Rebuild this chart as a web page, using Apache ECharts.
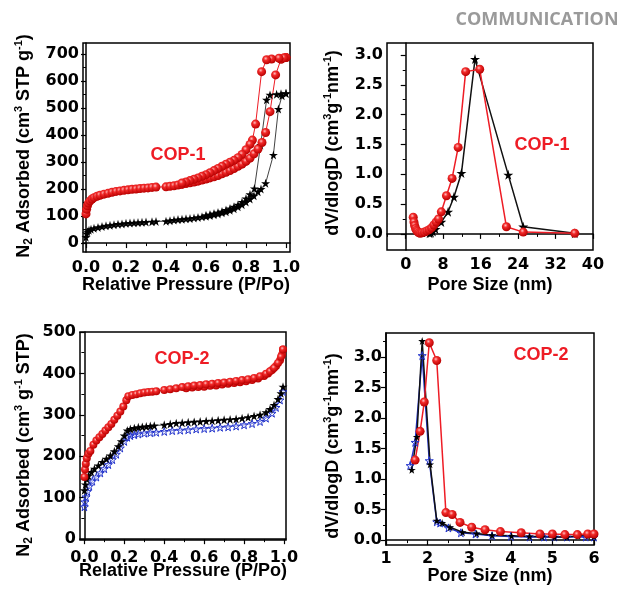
<!DOCTYPE html>
<html lang="en">
<head>
<meta charset="UTF-8">
<title>COP isotherms</title>
<style>
    *{margin:0;padding:0;}
    body{background:#fff;}
    #main{width:621px;height:590px;}
</style>
</head>
<body>
<div id="main"></div>
<script src="https://cdn.jsdelivr.net/npm/echarts@6/dist/echarts.min.js"></script>
<script>
// ---- tick values ----
const pressTicks = [0, 0.2, 0.4, 0.6, 0.8, 1.0];
const pressMinor = [0.1, 0.3, 0.5, 0.7, 0.9];
const ads1Ticks = [0, 100, 200, 300, 400, 500, 600, 700];
const ads1Minor = [50, 150, 250, 350, 450, 550, 650];
const pore1Ticks = [0, 8, 16, 24, 32, 40];
const pore1Minor = [-4, 4, 12, 20, 28, 36];
const dv1Ticks = [0, 0.5, 1.0, 1.5, 2.0, 2.5, 3.0];
const dv1Minor = [0.25, 0.75, 1.25, 1.75, 2.25, 2.75];
const ads2Ticks = [0, 100, 200, 300, 400, 500];
const ads2Minor = [50, 150, 250, 350, 450];
const pore2Ticks = [1, 2, 3, 4, 5, 6];
const pore2Minor = [1.5, 2.5, 3.5, 4.5, 5.5];
const dv2Ticks = [0, 0.5, 1.0, 1.5, 2.0, 2.5, 3.0];
const dv2Minor = [0.25, 0.75, 1.25, 1.75, 2.25, 2.75, 3.25];

// ---- COP-1 isotherm ----
const cop1RedAds = [[0.0,108],[0.003,125],[0.007,138],[0.012,148],[0.02,156],[0.03,163],[0.04,168],[0.055,173],[0.07,177],[0.09,181],[0.11,184],[0.13,188],[0.15,191],[0.17,193],[0.19,195],[0.21,197],[0.23,199],[0.25,200],[0.27,202],[0.29,203],[0.31,204],[0.33,206],[0.35,207],[0.40,208],[0.42,210],[0.44,212],[0.46,215],[0.48,217],[0.50,220],[0.52,223],[0.54,226],[0.56,229],[0.58,233],[0.60,237],[0.62,241],[0.64,245],[0.66,250],[0.68,256],[0.70,262],[0.72,268],[0.74,276],[0.76,284],[0.78,292],[0.80,302],[0.82,314],[0.84,330],[0.86,348],[0.88,372],[0.898,409],[0.92,486],[0.948,622],[0.975,680],[1.0,686]];
const cop1RedDes = [[1.0,686],[0.99,685],[0.965,684],[0.928,681],[0.903,678],[0.878,634],[0.848,440],[0.832,381],[0.82,365],[0.80,345],[0.78,328],[0.76,316],[0.74,306],[0.72,299],[0.70,292],[0.68,284],[0.66,276],[0.64,268],[0.62,260],[0.60,253],[0.58,247],[0.56,241],[0.54,236],[0.52,231],[0.50,226],[0.48,222]];
const cop1BlkAds = [[0.0,22],[0.003,35],[0.008,42],[0.015,47],[0.025,51],[0.04,55],[0.06,58],[0.08,61],[0.10,64],[0.12,66],[0.14,68],[0.16,70],[0.18,71],[0.20,73],[0.22,74],[0.24,75],[0.26,76],[0.28,77],[0.30,78],[0.33,79],[0.35,80],[0.40,81],[0.42,83],[0.44,85],[0.46,87],[0.48,88],[0.50,90],[0.52,91],[0.54,93],[0.56,95],[0.58,97],[0.60,99],[0.62,102],[0.64,105],[0.66,108],[0.68,112],[0.70,116],[0.72,121],[0.74,127],[0.76,134],[0.78,142],[0.80,152],[0.82,163],[0.84,175],[0.86,190],[0.875,200],[0.898,221],[0.937,326],[0.962,496],[0.98,545],[1.0,553]];
const cop1BlkDes = [[1.0,554],[0.975,552],[0.953,550],[0.92,548],[0.903,530],[0.873,363],[0.842,202],[0.82,180],[0.80,165],[0.78,152],[0.76,142],[0.74,134],[0.72,128],[0.70,122],[0.68,117],[0.66,113],[0.64,109],[0.62,106],[0.60,103]];

// ---- COP-1 pore size ----
const cop1RedPsd = [[1.6,0.28],[1.75,0.2],[1.9,0.14],[2.1,0.09],[2.3,0.06],[2.5,0.04],[2.8,0.02],[3.1,0.01],[3.5,0.02],[4.0,0.03],[4.5,0.05],[5.0,0.07],[5.5,0.1],[6.0,0.15],[6.5,0.2],[7.0,0.25],[7.6,0.37],[8.7,0.64],[9.9,0.93],[11.2,1.45],[12.8,2.72],[15.8,2.76],[21.5,0.12],[25.1,0.03],[36.1,0.01]];
const cop1BlkPsd = [[5.1,0.01],[5.4,0.02],[5.8,0.04],[6.35,0.08],[7.6,0.2],[9.05,0.37],[10.3,0.62],[11.9,1.02],[14.8,2.93],[21.9,0.99],[25.1,0.12],[36.1,0.01]];

// ---- COP-2 isotherm ----
const cop2RedAds = [[0.0,150],[0.003,168],[0.007,182],[0.012,195],[0.02,206],[0.03,213],[0.045,228],[0.06,238],[0.075,246],[0.09,254],[0.105,262],[0.12,270],[0.135,278],[0.15,288],[0.165,298],[0.18,308],[0.195,320],[0.21,335],[0.22,345],[0.24,348],[0.26,350],[0.28,352],[0.30,354],[0.32,355],[0.34,356],[0.36,357],[0.40,360],[0.43,362],[0.46,364],[0.49,367],[0.52,369],[0.55,371],[0.58,372],[0.61,374],[0.64,375],[0.67,377],[0.70,378],[0.73,380],[0.76,382],[0.79,384],[0.82,386],[0.85,389],[0.88,393],[0.91,399],[0.93,405],[0.95,413],[0.97,425],[0.985,440],[0.995,458]];
const cop2RedDes = [[0.995,458],[0.99,445],[0.98,432],[0.96,418],[0.94,408],[0.92,400],[0.90,394],[0.87,388],[0.84,384],[0.81,381],[0.78,379],[0.75,377],[0.72,375],[0.69,373],[0.66,371],[0.63,370],[0.60,368],[0.57,367],[0.54,366],[0.51,364]];
const cop2BlkAds = [[0.0,118],[0.005,132],[0.012,145],[0.02,153],[0.035,162],[0.05,170],[0.07,178],[0.09,186],[0.11,194],[0.13,202],[0.15,212],[0.17,224],[0.185,236],[0.2,250],[0.215,262],[0.23,266],[0.25,268],[0.27,270],[0.29,271],[0.31,272],[0.33,273],[0.35,274],[0.40,276],[0.43,278],[0.46,280],[0.49,281],[0.52,282],[0.55,283],[0.58,284],[0.61,285],[0.64,286],[0.67,287],[0.70,288],[0.73,289],[0.76,290],[0.79,292],[0.82,294],[0.85,297],[0.88,300],[0.91,306],[0.93,314],[0.95,324],[0.97,338],[0.985,352],[0.995,368]];
const cop2BlueDes = [[0.0,78],[0.003,90],[0.008,102],[0.015,115],[0.025,128],[0.04,140],[0.06,150],[0.08,160],[0.10,170],[0.12,180],[0.14,192],[0.16,205],[0.18,220],[0.2,236],[0.215,246],[0.23,250],[0.25,252],[0.27,254],[0.30,256],[0.33,257],[0.36,258],[0.40,260],[0.44,262],[0.48,263],[0.52,264],[0.56,266],[0.60,267],[0.64,268],[0.68,270],[0.72,271],[0.76,273],[0.80,276],[0.84,279],[0.88,284],[0.91,292],[0.94,304],[0.96,318],[0.98,336],[0.995,356]];

// ---- COP-2 pore size ----
const cop2RedPsd = [[1.70,1.31],[1.82,1.78],[1.92,2.26],[2.04,3.23],[2.22,2.94],[2.44,0.45],[2.59,0.42],[2.78,0.29],[3.06,0.21],[3.38,0.17],[3.75,0.14],[4.25,0.12],[4.7,0.10],[5.0,0.10],[5.3,0.09],[5.6,0.09],[5.85,0.10],[6.0,0.10]];
const cop2BlkPsd = [[1.62,1.15],[1.74,1.69],[1.87,3.26],[2.06,1.24],[2.22,0.32],[2.35,0.28],[2.54,0.21],[2.84,0.13],[3.18,0.11],[3.55,0.08],[4.02,0.07],[4.45,0.06],[4.75,0.06],[5.05,0.05],[5.35,0.05],[5.62,0.07],[5.85,0.07],[6.0,0.06]];
const cop2BluePsd = [[1.58,1.22],[1.70,1.60],[1.87,3.02],[2.04,1.30],[2.22,0.30],[2.30,0.28],[2.50,0.20],[2.80,0.12],[3.15,0.10],[3.55,0.07],[4.0,0.06],[4.45,0.05],[4.8,0.05],[5.05,0.05],[5.35,0.05],[5.8,0.05],[6.0,0.05]];

const RED = '#ee1c25';
const BLUE = '#2233cc';
const STAR = 'path://M50,0 L61,35 L98,35 L68,57 L79,91 L50,70 L21,91 L32,57 L2,35 L39,35 Z';
const TICKFONT = 'DejaVu Sans';
const TITLEFONT = 'Liberation Sans';

const sphere = {
    type: 'radial', x: 0.4, y: 0.35, r: 0.65,
    colorStops: [{offset: 0, color: '#ffc0c0'}, {offset: 0.35, color: '#f22a2a'}, {offset: 1, color: '#b80000'}]
};

function axisPair(dim, grid, min, max, major, minor, fmt, margin) {
    let pos = dim === 'x' ? 'bottom' : 'left';
    return [{
        gridIndex: grid, type: 'value', position: pos, min: min, max: max,
        splitLine: {show: false},
        axisLine: {show: true, lineStyle: {color: '#000', width: 1.5}},
        axisTick: {show: true, length: 5, customValues: major, lineStyle: {color: '#000', width: 1.2}},
        axisLabel: {customValues: major, formatter: fmt, margin: margin, color: '#000',
            fontFamily: TICKFONT, fontWeight: 'bold', fontSize: 16}
    }, {
        gridIndex: grid, type: 'value', position: pos, min: min, max: max,
        splitLine: {show: false},
        axisLine: {show: false},
        axisTick: {show: true, length: 3, customValues: minor, lineStyle: {color: '#000', width: 1}},
        axisLabel: {show: false, customValues: minor}
    }];
}

function ser(data, axis, kind, size, lw) {
    let s = {type: 'line', data: data, xAxisIndex: axis, yAxisIndex: axis, symbolSize: size,
        animation: false, clip: true};
    if (kind === 'red') {
        s.symbol = 'circle';
        s.itemStyle = {color: sphere, borderWidth: 0};
        s.lineStyle = {color: RED, width: lw};
    } else if (kind === 'black') {
        s.symbol = STAR;
        s.itemStyle = {color: '#000', borderWidth: 0};
        s.lineStyle = {color: '#111', width: lw};
    } else {
        s.symbol = STAR;
        s.itemStyle = {color: 'rgba(255,255,255,0)', borderColor: BLUE, borderWidth: 1};
        s.lineStyle = {color: BLUE, width: lw};
    }
    return s;
}

const f1 = v => v.toFixed(1);
const f0 = v => String(v);

const xAxes = [].concat(
    axisPair('x', 0, -0.015, 1.02, pressTicks, pressMinor, f1, 8),
    axisPair('x', 1, -4, 40, pore1Ticks, pore1Minor, f0, 7),
    axisPair('x', 2, -0.022, 1.01, pressTicks, pressMinor, f1, 10),
    axisPair('x', 3, 1, 6, pore2Ticks, pore2Minor, f0, 6)
);
const yAxes = [].concat(
    axisPair('y', 0, -33, 740, ads1Ticks, ads1Minor, f0, 4),
    axisPair('y', 1, -0.27, 3.2, dv1Ticks, dv1Minor, f1, 4),
    axisPair('y', 2, -2, 500, ads2Ticks, ads2Minor, f0, 4),
    axisPair('y', 3, -0.08, 3.39, dv2Ticks, dv2Minor, f1, 4)
);

function gridBox(l, t, w, h) {
    return {left: l, top: t, width: w, height: h, show: true, borderColor: '#000', borderWidth: 1.5,
        backgroundColor: 'transparent', containLabel: false};
}

const richBase = {
    b: {fontSize: 18, fontWeight: 'bold', fontFamily: TITLEFONT, lineHeight: 22, fill: '#000'},
    sup: {fontSize: 11, fontWeight: 'bold', fontFamily: TITLEFONT, lineHeight: 11, verticalAlign: 'top', fill: '#000'},
    sub: {fontSize: 12, fontWeight: 'bold', fontFamily: TITLEFONT, lineHeight: 12, verticalAlign: 'bottom', fill: '#000'}
};

function title(x, y, text, rot) {
    return {type: 'text', x: x, y: y, rotation: rot ? Math.PI / 2 : 0, silent: true,
        style: {text: text, rich: richBase, align: 'center', verticalAlign: 'middle',
            fontSize: 18, fontWeight: 'bold', fontFamily: TITLEFONT, fill: '#000'}};
}

function tag(x, y, text) {
    return {type: 'text', x: x, y: y, silent: true,
        style: {text: text, align: 'center', verticalAlign: 'middle', fill: RED,
            fontSize: 18, fontWeight: 'bold', fontFamily: TITLEFONT}};
}

let chart = echarts.init(document.getElementById('main'), null, {renderer: 'canvas'});
chart.setOption({
    backgroundColor: '#fff',
    animation: false,
    grid: [gridBox(83, 43, 207, 209), gridBox(387, 43, 206, 207), gridBox(80, 332, 206, 208), gridBox(386, 333, 208, 212)],
    xAxis: xAxes,
    yAxis: yAxes,
    series: [
        ser(cop1BlkAds, 0, 'black', 9, 0.8),
        ser(cop1BlkDes, 0, 'black', 9, 0.8),
        ser(cop1RedAds, 0, 'red', 9, 1),
        ser(cop1RedDes, 0, 'red', 9, 1),
        ser(cop1BlkPsd, 2, 'black', 10, 1.5),
        ser(cop1RedPsd, 2, 'red', 9, 1.5),
        ser(cop2BlueDes, 4, 'blue', 8, 0.6),
        ser(cop2BlkAds, 4, 'black', 9, 0.8),
        ser(cop2RedDes, 4, 'red', 8, 1),
        ser(cop2RedAds, 4, 'red', 8, 1),
        ser(cop2BluePsd, 6, 'blue', 8, 1.5),
        ser(cop2BlkPsd, 6, 'black', 8, 1.5),
        ser(cop2RedPsd, 6, 'red', 9, 1.5)
    ],
    graphic: [
        {type: 'text', x: 537, y: 20, silent: true,
            style: {text: 'COMMUNICATION', align: 'center', verticalAlign: 'middle', fill: '#9a9a9a',
                fontSize: 18, fontWeight: 'bold', fontFamily: 'Open Sans'}},
        title(24, 146, '{b|N}{sub|2}{b| Adsorbed (cm}{sup|3}{b| STP g}{sup|-1}{b|)}', true),
        title(333, 143, '{b|dV/dlogD (cm}{sup|3}{b|g}{sup|-1}{b|nm}{sup|-1}{b|)}', true),
        title(24, 445, '{b|N}{sub|2}{b| Adsorbed (cm}{sup|3}{b| g}{sup|-1}{b| STP)}', true),
        title(333, 446, '{b|dV/dlogD (cm}{sup|3}{b|g}{sup|-1}{b|nm}{sup|-1}{b|)}', true),
        title(186, 285, '{b|Relative Pressure (P/Po)}', false),
        title(490, 285, '{b|Pore Size (nm)}', false),
        title(183, 571, '{b|Relative Pressure (P/Po)}', false),
        title(490, 576, '{b|Pore Size (nm)}', false),
        tag(178, 155, 'COP-1'),
        tag(542, 145, 'COP-1'),
        tag(182, 359, 'COP-2'),
        tag(541, 355, 'COP-2')
    ]
});
</script>
</body>
</html>
